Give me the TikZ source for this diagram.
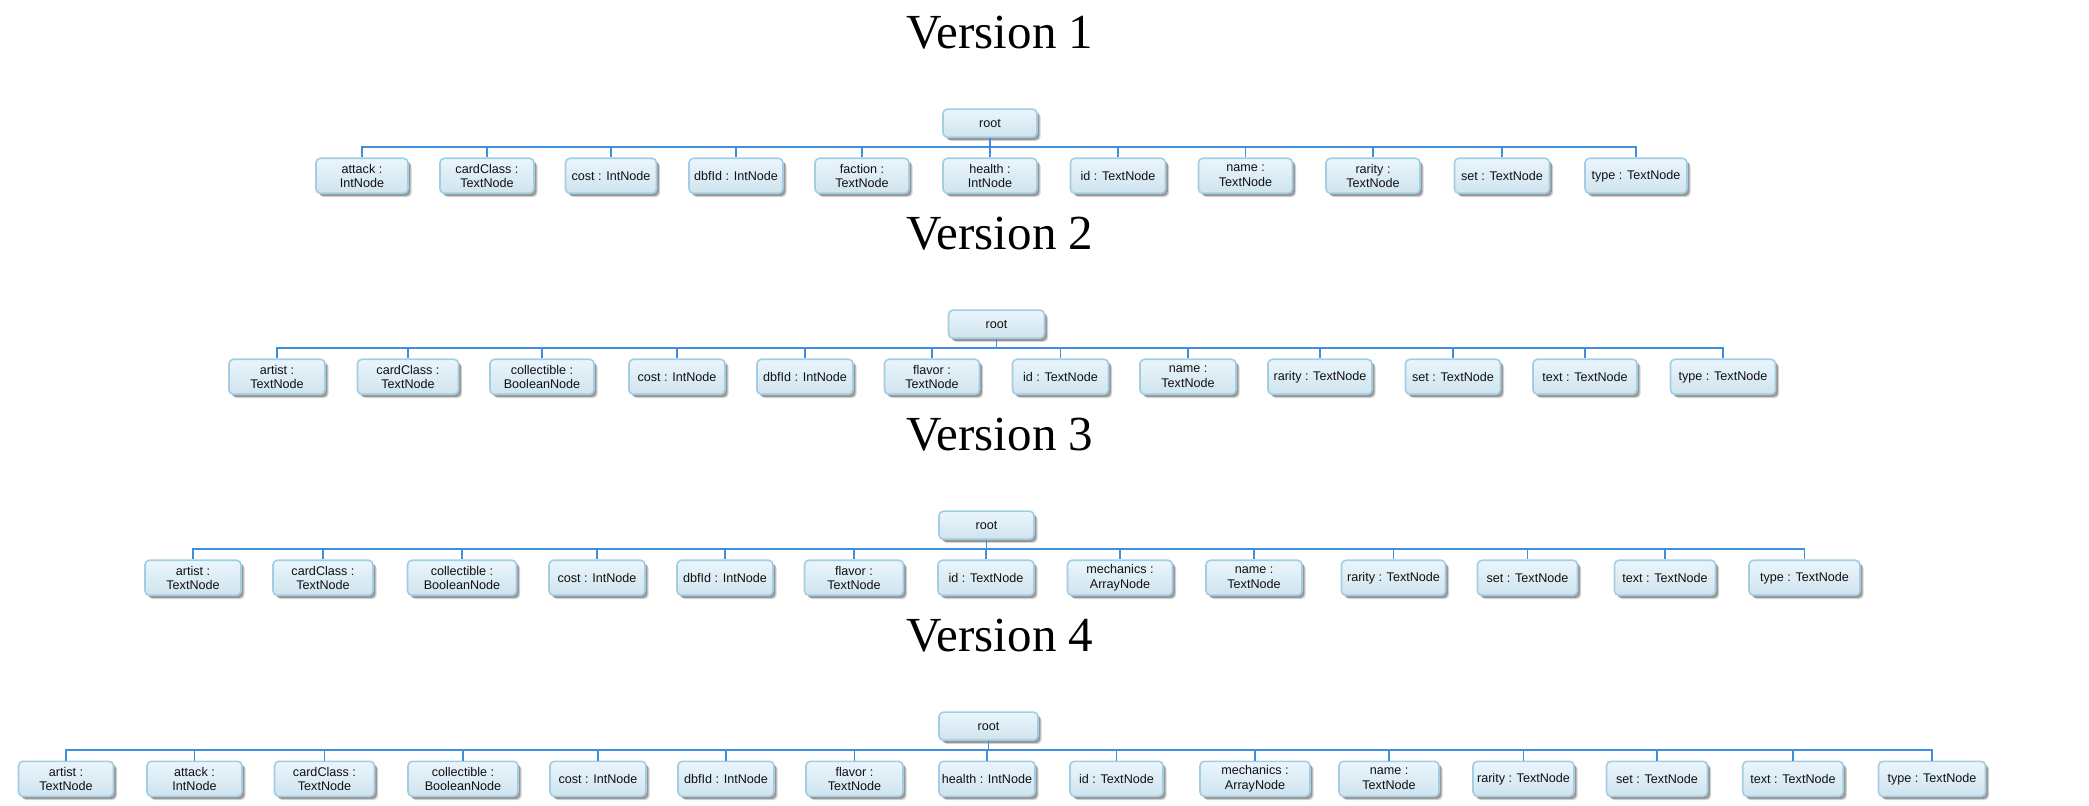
\documentclass[tikz,border=0pt]{standalone}
\usepackage{fontspec}
\setmainfont{Liberation Serif}
\newfontfamily\boxfont{Liberation Sans}
\usetikzlibrary{shadows}

\definecolor{boxtop}{HTML}{EAF5FC}
\definecolor{boxbot}{HTML}{CFE4EE}
\definecolor{boxedge}{HTML}{A3CDE2}
\definecolor{wire}{HTML}{3F8FDF}
\definecolor{ink}{HTML}{111111}

\tikzset{
  field/.style={draw=boxedge, line width=0.8pt, rounded corners=2.2pt,
    top color=boxtop, bottom color=boxbot, inner sep=0pt,
    minimum height=17.5pt, align=center, text=ink,
    font=\boxfont\fontsize{6.3pt}{7.15pt}\selectfont,
    drop shadow={shadow xshift=1.8pt, shadow yshift=-1.9pt, opacity=0.18, fill=black},
    drop shadow={shadow xshift=1.2pt, shadow yshift=-1.3pt, opacity=0.28, fill=black}},
  rootbox/.style={field, minimum height=14pt},
  conn/.style={draw=wire, line width=0.65pt},
  vtitle/.style={font=\fontsize{24.5pt}{28pt}\selectfont, anchor=base, inner sep=0pt}
}

% #1 version, #2 vertical offset, #3 root x, #4 root width, #5 fields x/width/label
\newcommand\cardtree[5]{%
  \node[vtitle] (title#1) at (1000,49+#2) {Version #1};
  \node[rootbox, minimum width=#4*0.5pt] (root#1) at (#3,123.2+#2) {root};
  \coordinate (bus#1) at (0,147+#2);
  \foreach \x/\w/\lbl [count=\i] in {#5} {
    \node[field, minimum width=\w*0.5pt] (v#1-\i) at (\x,175.8+#2) {\lbl};
    \draw[conn] (root#1.south) -- (root#1.south |- bus#1) -| (v#1-\i.north);
  }%
}

\begin{document}
\begin{tikzpicture}[x=0.5pt, y=-0.5pt]
\useasboundingbox (0,0) rectangle (2089,806);

\cardtree{1}{0}{990}{94}{%
  362/92/{attack :\\IntNode},
  487/94/{cardClass :\\TextNode},
  611/91/{cost : IntNode},
  736/94/{dbfId : IntNode},
  862/94/{faction :\\TextNode},
  990/94/{health :\\IntNode},
  1118/95/{id : TextNode},
  1245.5/94/{name :\\TextNode},
  1373/94/{rarity :\\TextNode},
  1502/95/{set : TextNode},
  1636/102/{type : TextNode}}

\cardtree{2}{201}{996.5}{96}{%
  277/96/{artist :\\TextNode},
  408/101/{cardClass :\\TextNode},
  542/104/{collectible :\\BooleanNode},
  677/96/{cost : IntNode},
  805/96/{dbfId : IntNode},
  932/95/{flavor :\\TextNode},
  1060.5/96/{id : TextNode},
  1188/96/{name :\\TextNode},
  1320/104/{rarity : TextNode},
  1453/95/{set : TextNode},
  1585/104/{text : TextNode},
  1723/105/{type : TextNode}}

\cardtree{3}{402}{986.5}{95}{%
  193/96/{artist :\\TextNode},
  323/100/{cardClass :\\TextNode},
  462/109/{collectible :\\BooleanNode},
  597/96/{cost : IntNode},
  725/96/{dbfId : IntNode},
  854/99/{flavor :\\TextNode},
  986/96/{id : TextNode},
  1120/105/{mechanics :\\ArrayNode},
  1254/96/{name :\\TextNode},
  1393.5/104/{rarity : TextNode},
  1527.5/100/{set : TextNode},
  1665/101/{text : TextNode},
  1804.5/111/{type : TextNode}}

\cardtree{4}{603}{988.5}{99}{%
  66/95/{artist :\\TextNode},
  194.5/95/{attack :\\IntNode},
  324.5/100/{cardClass :\\TextNode},
  463/110/{collectible :\\BooleanNode},
  598/96/{cost : IntNode},
  726/96/{dbfId : IntNode},
  854.5/97/{flavor :\\TextNode},
  987/96/{health : IntNode},
  1116.5/93/{id : TextNode},
  1255/110/{mechanics :\\ArrayNode},
  1389/100/{name :\\TextNode},
  1523.5/101/{rarity : TextNode},
  1657/101/{set : TextNode},
  1793/100.5/{text : TextNode},
  1932/107/{type : TextNode}}

\end{tikzpicture}
\end{document}
